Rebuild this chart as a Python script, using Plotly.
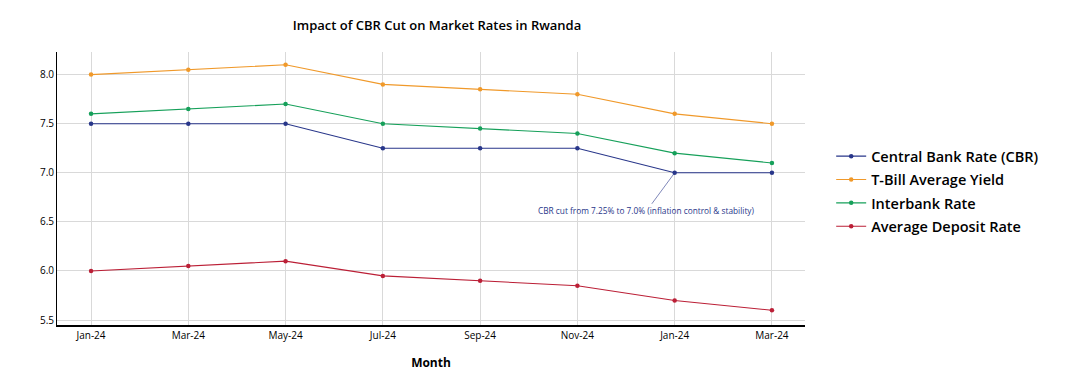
import plotly.graph_objects as go

months = ["Jan-24", "Mar-24", "May-24", "Jul-24", "Sep-24", "Nov-24", "Jan-24", "Mar-24"]
cbr = [7.5, 7.5, 7.5, 7.25, 7.25, 7.25, 7.0, 7.0]
tbill = [8.0, 8.05, 8.1, 7.9, 7.85, 7.8, 7.6, 7.5]
interbank = [7.6, 7.65, 7.7, 7.5, 7.45, 7.4, 7.2, 7.1]
deposit = [6.0, 6.05, 6.1, 5.95, 5.9, 5.85, 5.7, 5.6]
y_ticks = [5.5, 6.0, 6.5, 7.0, 7.5, 8.0]

series = [
    ("Central Bank Rate (CBR)", cbr, "#28368a"),
    ("T-Bill Average Yield", tbill, "#f0992a"),
    ("Interbank Rate", interbank, "#16a05a"),
    ("Average Deposit Rate", deposit, "#bb1f36"),
]

xpos = list(range(len(months)))
fig = go.Figure()
for name, vals, col in series:
    fig.add_trace(go.Scatter(
        x=xpos, y=vals, name=name, mode="lines+markers", legendgroup=name,
        line=dict(color=col, width=1.1),
        marker=dict(color=col, size=4.5),
    ))

fig.add_annotation(
    x=6, y=7.0, xref="x", yref="y",
    text="CBR cut from 7.25% to 7.0% (inflation control & stability)",
    showarrow=True, arrowhead=0, arrowwidth=0.6, arrowcolor="#28368a",
    ax=-28, ay=38,
    font=dict(size=8.3, color="#28368a", family="Open Sans"),
)

fig.update_layout(
    width=1072, height=382,
    margin=dict(l=49, r=275, t=44, b=65),
    paper_bgcolor="white", plot_bgcolor="white",
    font=dict(family="Open Sans", color="black"),
    title=dict(text="Impact of CBR Cut on Market Rates in Rwanda",
               x=429 / 1072, xanchor="center", y=1 - 17 / 382, yanchor="middle",
               font=dict(size=13, color="black", weight=600)),
    legend=dict(x=1.035, xanchor="left", y=0.49, yanchor="middle",
                font=dict(size=14.5, color="black", weight=600), tracegroupgap=1.5,
                itemwidth=30),
    xaxis=dict(
        tickmode="array", tickvals=xpos, ticktext=months,
        range=[-0.35, 7.34], showgrid=True, gridcolor="#d9d9d9",
        showline=True, linecolor="black", linewidth=2, zeroline=False,
        tickfont=dict(size=10),
        title=dict(text="<b>Month</b>", font=dict(size=12), standoff=18),
    ),
    yaxis=dict(
        tickmode="array", tickvals=y_ticks, ticktext=[f"{v:.1f}" for v in y_ticks],
        range=[5.45, 8.23], showgrid=True, gridcolor="#d9d9d9",
        showline=True, linecolor="black", linewidth=1, zeroline=False,
        tickfont=dict(size=10),
    ),
)

fig.write_html("out.html")
